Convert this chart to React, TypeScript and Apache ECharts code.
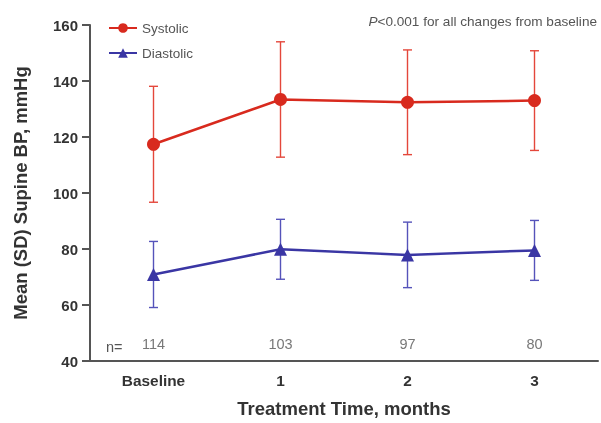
import React, { useEffect, useRef } from "react";
import * as echarts from "echarts";

const categories = ["Baseline", "1", "2", "3"];
const systolicMean = [117.4, 133.4, 132.4, 133.0];
const systolicSD = [20.7, 20.6, 18.7, 17.8];
const diastolicMean = [70.9, 79.9, 77.9, 79.5];
const diastolicSD = [11.8, 10.7, 11.7, 10.7];
const nCounts = [114, 103, 97, 80];
const yTicks = { min: 40, max: 160, interval: 20 };

const RED = "#d82a1e";
const RED_BAR = "#e4473b";
const BLUE = "#3a36a4";
const BLUE_BAR = "#5553ba";
const FONT = "Liberation Sans, Arial, sans-serif";

function errorSeries(name: string, mean: number[], sd: number[], color: string) {
  return {
    type: "custom",
    name: name + " SD",
    silent: true,
    z: 1,
    data: mean.map((m, i) => [i, m - sd[i], m + sd[i]]),
    renderItem: (params: any, api: any) => {
      const lo = api.coord([api.value(0), api.value(1)]);
      const hi = api.coord([api.value(0), api.value(2)]);
      const w = 4.5;
      const style = { stroke: color, lineWidth: 1.4 };
      return {
        type: "group",
        children: [
          { type: "line", shape: { x1: lo[0], y1: lo[1], x2: hi[0], y2: hi[1] }, style },
          { type: "line", shape: { x1: lo[0] - w, y1: lo[1], x2: lo[0] + w, y2: lo[1] }, style },
          { type: "line", shape: { x1: hi[0] - w, y1: hi[1], x2: hi[0] + w, y2: hi[1] }, style },
        ],
      };
    },
  };
}

export default function App() {
  const ref = useRef<HTMLDivElement>(null);
  useEffect(() => {
    if (!ref.current) return;
    const chart = echarts.init(ref.current, null, { renderer: "svg" });
    chart.setOption({
      animation: false,
      textStyle: { fontFamily: FONT },
      grid: { left: 90, width: 508, top: 25, height: 338 },
      legend: {
        orient: "vertical",
        left: 103,
        top: 16,
        itemWidth: 28,
        itemHeight: 12,
        itemGap: 11,
        data: ["Systolic", "Diastolic"],
        textStyle: { color: "#555", fontSize: 13.5, fontFamily: FONT },
      },
      graphic: [
        {
          type: "text",
          right: 4,
          top: 14,
          style: {
            text: "{i|P}<0.001 for all changes from baseline",
            fill: "#555",
            fontSize: 13.6,
            fontFamily: FONT,
            rich: { i: { fontStyle: "italic", fill: "#555", fontSize: 13.6, fontFamily: FONT } },
          },
        },
        {
          type: "text",
          left: 106,
          top: 339,
          style: { text: "n=", fill: "#555", fontSize: 14.5, fontFamily: FONT },
        },
      ],
      xAxis: {
        type: "category",
        data: categories,
        boundaryGap: true,
        name: "Treatment Time, months",
        nameLocation: "middle",
        nameGap: 38,
        nameTextStyle: { fontSize: 18.5, fontWeight: "bold", color: "#333", fontFamily: FONT },
        axisLine: { lineStyle: { color: "#555", width: 2 } },
        axisTick: { alignWithLabel: true, length: 7, lineStyle: { color: "#555", width: 2 } },
        axisLabel: { fontSize: 15.4, fontWeight: "bold", color: "#333", margin: 12, fontFamily: FONT },
      },
      yAxis: {
        type: "value",
        min: yTicks.min,
        max: yTicks.max,
        interval: yTicks.interval,
        name: "Mean (SD) Supine BP, mmHg",
        nameLocation: "middle",
        nameGap: 60,
        nameTextStyle: { fontSize: 18.5, fontWeight: "bold", color: "#333", fontFamily: FONT },
        axisLine: { show: true, lineStyle: { color: "#555", width: 2 } },
        axisTick: { show: true, length: 8, lineStyle: { color: "#555", width: 2 } },
        axisLabel: { fontSize: 15, fontWeight: "bold", color: "#333", margin: 12, fontFamily: FONT },
        splitLine: { show: false },
      },
      series: [
        errorSeries("Systolic", systolicMean, systolicSD, RED_BAR),
        errorSeries("Diastolic", diastolicMean, diastolicSD, BLUE_BAR),
        {
          type: "line",
          name: "Systolic",
          data: systolicMean,
          symbol: "circle",
          symbolSize: 13,
          z: 3,
          lineStyle: { color: RED, width: 2.5 },
          itemStyle: { color: RED },
        },
        {
          type: "line",
          name: "Diastolic",
          data: diastolicMean,
          symbol: "triangle",
          symbolSize: 13,
          z: 3,
          lineStyle: { color: BLUE, width: 2.5 },
          itemStyle: { color: BLUE },
        },
        {
          type: "scatter",
          name: "n",
          silent: true,
          symbolSize: 0,
          data: nCounts.map((n, i) => [i, 46]),
          label: {
            show: true,
            position: "inside",
            formatter: (p: any) => String(nCounts[p.dataIndex]),
            color: "#555",
            fontSize: 14.5,
            fontFamily: FONT,
          },
        },
      ],
    });
    return () => chart.dispose();
  }, []);
  return (
    <div
      ref={ref}
      style={{ position: "fixed", left: 0, top: 0, width: 601, height: 423 }}
    />
  );
}
